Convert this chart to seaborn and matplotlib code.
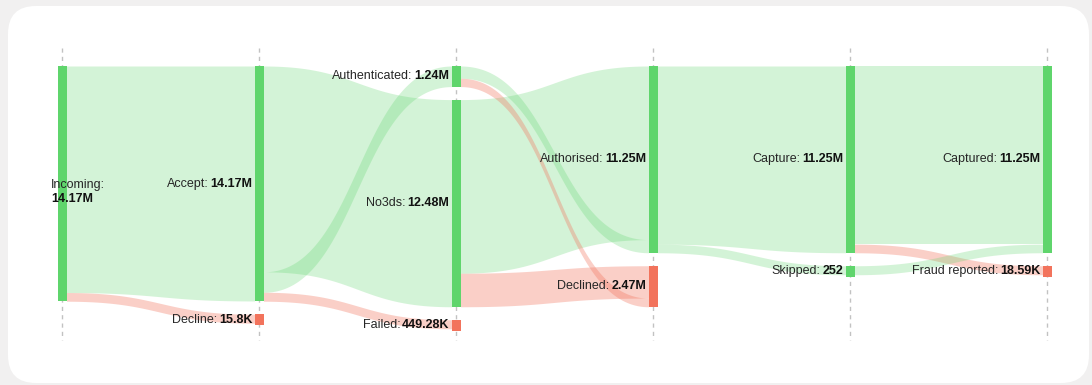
import numpy as np
import matplotlib
matplotlib.use("Agg")
import matplotlib.pyplot as plt
from matplotlib.patches import FancyBboxPatch, Rectangle
import seaborn as sns

# ---------------- data ----------------
node_names = ["Incoming", "Accept", "Decline", "Authenticated", "No3ds", "Failed",
              "Authorised", "Declined", "Capture", "Skipped", "Captured", "Fraud reported"]
node_values = [14.17e6, 14.17e6, 15.8e3, 1.24e6, 12.48e6, 449.28e3,
               11.25e6, 2.47e6, 11.25e6, 252, 11.25e6, 18.59e3]
node_stage = [0, 1, 1, 2, 2, 2, 3, 3, 4, 4, 5, 5]
node_failure = [False, False, True, False, False, True,
                False, True, False, False, False, True]

link_source = ["Incoming", "Incoming", "Accept", "Accept", "Accept", "No3ds", "No3ds",
               "Authenticated", "Authenticated", "Authorised", "Authorised",
               "Capture", "Capture", "Skipped"]
link_target = ["Accept", "Decline", "No3ds", "Authenticated", "Failed", "Authorised", "Declined",
               "Authorised", "Declined", "Capture", "Skipped", "Captured", "Fraud reported", "Captured"]
link_value = [14.1542e6, 15.8e3, 12.48e6, 1.24e6, 449.28e3, 10.46e6, 2.02e6,
              0.79e6, 0.45e6, 11.2497e6, 252, 11.2314e6, 18.59e3, 252]

# ---------------- style ----------------
sns.set_theme(style="white")
plt.rcParams["font.family"] = ["Liberation Sans", "DejaVu Sans"]

W, H = 1092, 385
fig = plt.figure(figsize=(W / 100, H / 100), dpi=100)
fig.patch.set_facecolor("#f1f0f0")
ax = fig.add_axes([0, 0, 1, 1])
ax.set_xlim(0, W)
ax.set_ylim(H, 0)
ax.axis("off")

card = FancyBboxPatch((8, 6), 1081, 377, boxstyle="round,pad=0,rounding_size=28",
                      facecolor="white", edgecolor="none", zorder=0)
ax.add_patch(card)

GREEN = "#5fd56c"
RED = "#f2735c"

stage_x = np.linspace(62, 1047, 6)
node_w = 9
top = 66
gap = 13
scale = 16.6e-6
min_h = 11
min_link = 9

# node layout
idx = {n: i for i, n in enumerate(node_names)}
ny0 = {}
ny1 = {}
for s in range(6):
    y = top
    for i, n in enumerate(node_names):
        if node_stage[i] != s:
            continue
        h = max(node_values[i] * scale, min_h)
        ny0[n] = y
        ny1[n] = y + h
        y += h + gap

# link widths at both ends
def side_widths(key_list):
    widths = {}
    for n in node_names:
        ids = [k for k in range(len(link_value)) if key_list[k] == n]
        if not ids:
            continue
        raw = np.array([max(link_value[k] * scale, min_link) for k in ids])
        h = ny1[n] - ny0[n]
        if raw.sum() > h:
            raw = raw * h / raw.sum()
        y = ny0[n]
        for k, w in zip(ids, raw):
            widths[k] = (y, y + w)
            y += w
    return widths

src_pos = side_widths(link_source)
tgt_pos = side_widths(link_target)

# guide lines
ax.vlines(stage_x, 48, 340, colors="#c2c2c2", linestyles=(0, (3, 3)), lw=1, zorder=1)

t = np.linspace(0, 1, 120)
ease = 3 * t ** 2 - 2 * t ** 3
for k in range(len(link_value)):
    s, tg = link_source[k], link_target[k]
    x0 = stage_x[node_stage[idx[s]]] + node_w / 2
    x1 = stage_x[node_stage[idx[tg]]] - node_w / 2
    xm = (x0 + x1) / 2
    xs = (1 - t) ** 3 * x0 + 3 * (1 - t) * t * xm + t ** 3 * x1
    a0, a1 = src_pos[k]
    b0, b1 = tgt_pos[k]
    ytop = a0 + (b0 - a0) * ease
    ybot = a1 + (b1 - a1) * ease
    col = RED if node_failure[idx[tg]] else GREEN
    alpha = 0.34 if node_failure[idx[tg]] else 0.27
    ax.fill_between(xs, ytop, ybot, color=col, alpha=alpha, lw=0, zorder=2)

# nodes
for i, n in enumerate(node_names):
    x = stage_x[node_stage[i]]
    ax.add_patch(Rectangle((x - node_w / 2, ny0[n]), node_w, ny1[n] - ny0[n],
                           facecolor=RED if node_failure[i] else GREEN,
                           edgecolor="none", zorder=3))

def fmt(v):
    if v >= 1e6:
        s = f"{v / 1e6:.2f}".rstrip("0").rstrip(".") + "M"
    elif v >= 1e3:
        s = f"{v / 1e3:.2f}".rstrip("0").rstrip(".") + "K"
    else:
        s = f"{v:.0f}"
    return s

FS = 9
NAME_C = "#262626"
VAL_C = "#111111"
fig.canvas.draw()
renderer = fig.canvas.get_renderer()
inv = ax.transData.inverted()
for i, n in enumerate(node_names):
    x = stage_x[node_stage[i]]
    cy = (ny0[n] + ny1[n]) / 2
    if node_stage[i] == 0:
        ax.text(51, cy + 1, n + ":", ha="left", va="center", fontsize=FS,
                color=NAME_C, zorder=5)
        ax.text(51, cy + 15, fmt(node_values[i]), ha="left", va="center", fontsize=FS,
                fontweight="bold", color=VAL_C, zorder=5)
        continue
    tv = ax.text(x - node_w / 2 - 2, cy, fmt(node_values[i]), ha="right", va="center",
                 fontsize=FS, fontweight="bold", color=VAL_C, zorder=5)
    bb = tv.get_window_extent(renderer)
    left = inv.transform((bb.x0, bb.y0))[0]
    ax.text(left - 2, cy, n + ":", ha="right", va="center", fontsize=FS,
            color=NAME_C, zorder=5)

fig.savefig("out.png", dpi=100, facecolor=fig.get_facecolor())
